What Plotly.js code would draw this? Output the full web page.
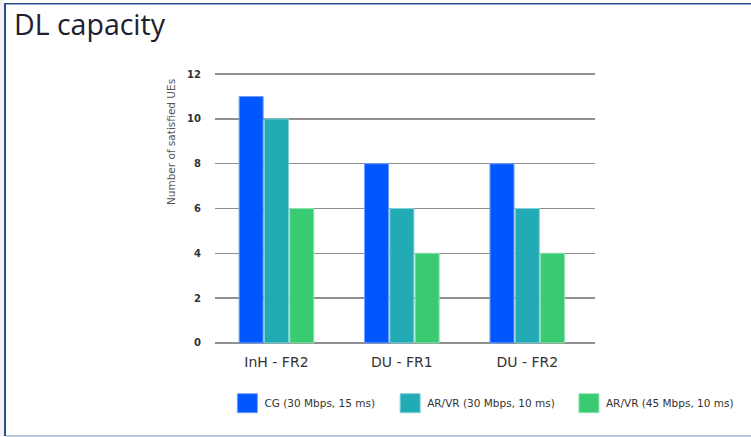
<!DOCTYPE html>
<html>
<head>
<meta charset="utf-8">
<script src="https://cdn.plot.ly/plotly-3.0.1.min.js"></script>
<style>
  html, body { margin:0; padding:0; background:#ffffff; }
  #wrap { position:relative; width:751px; height:437px; overflow:hidden; }
  .f { position:absolute; }
  #plot { position:absolute; left:0; top:0; width:751px; height:437px; }
</style>
</head>
<body>
<div id="wrap">
  <div class="f" style="left:0;top:0;width:4px;height:437px;background:#f2f2f4;"></div>
  <div class="f" style="left:4px;top:3px;width:2px;height:433px;background:#2b4e8c;"></div>
  <div class="f" style="left:4px;top:3px;width:747px;height:1px;background:#2b4e8c;"></div>
  <div class="f" style="left:6px;top:4px;width:745px;height:1px;background:#8ea6c9;"></div>
  <div class="f" style="left:6px;top:435px;width:745px;height:2px;background:#b9c9da;"></div>
  <div id="plot"></div>
</div>
<script>
const categories = ["InH - FR2", "DU - FR1", "DU - FR2"];
const seriesNames = ["CG (30 Mbps, 15 ms)", "AR/VR (30 Mbps, 10 ms)", "AR/VR (45 Mbps, 10 ms)"];
const cgValues = [11, 8, 8];
const arvr30Values = [10, 6, 6];
const arvr45Values = [6, 4, 4];
const yTicks = [0, 2, 4, 6, 8, 10, 12];
const yTitle = "Number of satisfied UEs";

const colors = ["#0057ff", "#22aab5", "#38cb72"];
const lineColors = ["#6f9dff", "#7fd0d6", "#8fe2b0"];
const values = [cgValues, arvr30Values, arvr45Values];
const legendIds = ["legend", "legend2", "legend3"];
const legendX = [0.0247, 0.453, 0.9235];

const traces = values.map((v, i) => ({
  type: "bar",
  name: seriesNames[i],
  x: categories,
  y: v,
  legend: legendIds[i],
  marker: { color: colors[i], line: { color: lineColors[i], width: 1 } },
  hoverinfo: "none"
}));

const layout = {
  width: 751, height: 437,
  paper_bgcolor: "rgba(0,0,0,0)",
  plot_bgcolor: "rgba(0,0,0,0)",
  margin: { l: 215, r: 156, t: 72.9, b: 93.2, pad: 0 },
  barmode: "group",
  bargap: 0.395,
  bargroupgap: 0.05,
  title: {
    text: "DL capacity",
    font: { family: "Open Sans", size: 28.5, color: "#1e2030" },
    xref: "container", yref: "container",
    x: 14 / 751, xanchor: "left",
    y: 1 - 25.5 / 437, yanchor: "middle"
  },
  xaxis: {
    type: "category",
    range: [-0.49, 2.54],
    showgrid: false, zeroline: false, showline: false,
    ticks: "",
    ticklabelstandoff: 8,
    tickfont: { family: "DejaVu Sans", size: 14, color: "#333333" }
  },
  yaxis: {
    range: [-0.05, 12.05],
    tickvals: yTicks,
    ticktext: yTicks.map(String),
    showgrid: true, gridcolor: "#8f8f8f", gridwidth: 1.4,
    zeroline: false, showline: false,
    ticks: "",
    ticklabelstandoff: 13,
    tickfont: { family: "DejaVu Sans", size: 10, color: "#333333", weight: "bold" }
  },
  annotations: [{
    text: yTitle,
    xref: "paper", yref: "paper",
    x: (171 - 215) / 380, y: 0.745,
    xanchor: "center", yanchor: "middle",
    textangle: -90,
    showarrow: false,
    font: { family: "DejaVu Sans", size: 10.5, color: "#555555" }
  }],
  showlegend: true
};

legendIds.forEach((id, i) => {
  layout[id] = {
    orientation: "h",
    x: legendX[i], xanchor: "left",
    y: -0.2185, yanchor: "middle",
    font: { family: "DejaVu Sans", size: 10.5, color: "#333333" },
    bgcolor: "rgba(0,0,0,0)"
  };
});

Plotly.newPlot("plot", traces, layout, { staticPlot: true, displayModeBar: false }).then(() => {
  document.querySelectorAll("#plot .legendpoints path").forEach(p => {
    p.setAttribute("d", "M13,9.5H-7V-9.5H13Z");
  });
});
</script>
</body>
</html>
